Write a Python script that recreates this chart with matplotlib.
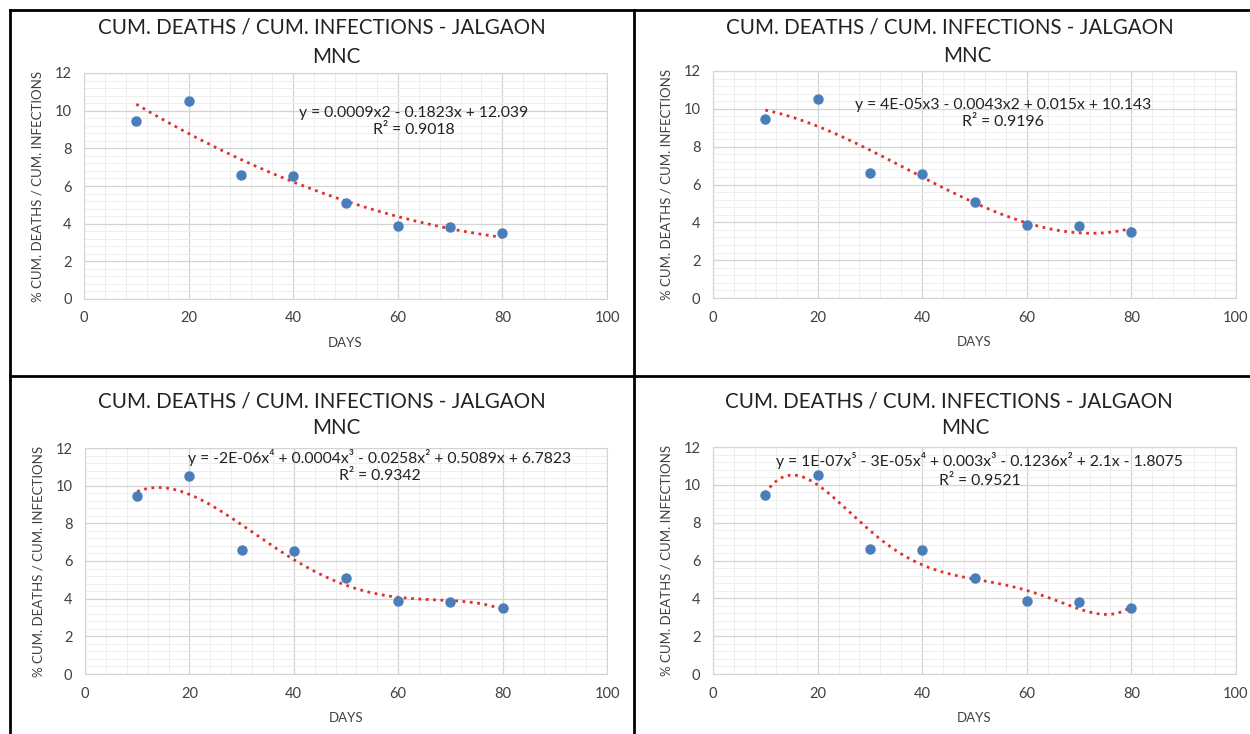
import numpy as np
import matplotlib.pyplot as plt
from matplotlib.lines import Line2D
from matplotlib.ticker import MultipleLocator

days = [10, 20, 30, 40, 50, 60, 70, 80]
ratio = [9.45, 10.5, 6.6, 6.55, 5.1, 3.85, 3.8, 3.5]

degrees = [2, 3, 4, 5]
equations = [
    "y = 0.0009x2 - 0.1823x + 12.039",
    "y = 4E-05x3 - 0.0043x2 + 0.015x + 10.143",
    "y = -2E-06x\u2074 + 0.0004x\u00b3 - 0.0258x\u00b2 + 0.5089x + 6.7823",
    "y = 1E-07x\u2075 - 3E-05x\u2074 + 0.003x\u00b3 - 0.1236x\u00b2 + 2.1x - 1.8075",
]
r2_labels = ["R\u00b2 = 0.9018", "R\u00b2 = 0.9196", "R\u00b2 = 0.9342", "R\u00b2 = 0.9521"]
title_line1 = "CUM. DEATHS / CUM. INFECTIONS - JALGAON"
title_line2 = "MNC"

plt.rcParams['font.family'] = ['Lato', 'DejaVu Sans']

W, H = 1250, 734
fig = plt.figure(figsize=(12.5, 7.34), dpi=100)

# plot area boxes in pixels: left, top, right, bottom
boxes = [(84, 73, 607, 299), (713, 71, 1236, 298),
         (85, 448, 607, 674), (713, 447, 1236, 674)]
# title positions in pixels: x line1, x line2, y line1, y line2
title_pos = [(322, 336, 28, 57), (950, 967, 27, 56),
             (322, 336, 402, 428), (949, 965, 402, 428)]
# equation label positions (data coords)
eq_pos = [(63, 9.9, 9.0), (55.5, 10.2, 9.3), (56.5, 11.5, 10.5), (51, 11.3, 10.2)]

for i in range(4):
    l, t, r, b = boxes[i]
    ax = fig.add_axes([l / W, 1 - b / H, (r - l) / W, (b - t) / H])
    ax.set_xlim(0, 100)
    ax.set_ylim(0, 12)
    ax.xaxis.set_major_locator(MultipleLocator(20))
    ax.xaxis.set_minor_locator(MultipleLocator(4))
    ax.yaxis.set_major_locator(MultipleLocator(2))
    ax.yaxis.set_minor_locator(MultipleLocator(0.4))
    ax.grid(which='major', color='#d4d4d4', lw=0.9)
    ax.grid(which='minor', color='#eeeeee', lw=0.7)
    ax.set_axisbelow(True)
    for s in ax.spines.values():
        s.set_color('#d4d4d4')
    ax.tick_params(which='both', length=0, colors='#404040', labelsize=10.5)
    ax.tick_params(axis='x', pad=9)
    ax.tick_params(axis='y', pad=9)

    coef = np.polyfit(days, ratio, degrees[i])
    xs = np.linspace(days[0], days[-1], 200)
    ax.plot(xs, np.polyval(coef, xs), color='#e0302c', ls=':', lw=2.0)
    ax.plot(days, ratio, 'o', color='#4a7ebb', ms=6.5)

    ex, ey, ry = eq_pos[i]
    ax.text(ex, ey, equations[i], ha='center', va='center', fontsize=11.3, color='#222222')
    ax.text(ex, ry, r2_labels[i], ha='center', va='center', fontsize=11.3, color='#222222')

    tx1, tx2, ty1, ty2 = title_pos[i]
    fig.text(tx1 / W, 1 - ty1 / H, title_line1, ha='center', va='center', fontsize=14.8, color='#222222')
    fig.text(tx2 / W, 1 - ty2 / H, title_line2, ha='center', va='center', fontsize=14.8, color='#222222')

    ax.set_xlabel("DAYS", fontsize=9.5, color='#404040', labelpad=8)
    ax.set_ylabel("% CUM. DEATHS / CUM. INFECTIONS", fontsize=9.5, color='#404040', labelpad=8)

# panel borders
def hline(y, x0, x1):
    fig.add_artist(Line2D([x0 / W, x1 / W], [1 - y / H, 1 - y / H], color='black', lw=2))

def vline(x, y0, y1):
    fig.add_artist(Line2D([x / W, x / W], [1 - y0 / H, 1 - y1 / H], color='black', lw=2))

hline(10, 10, W)
hline(376, 10, W)
vline(10, 10, H)
vline(634, 10, H)

fig.savefig("out.png", dpi=100)
